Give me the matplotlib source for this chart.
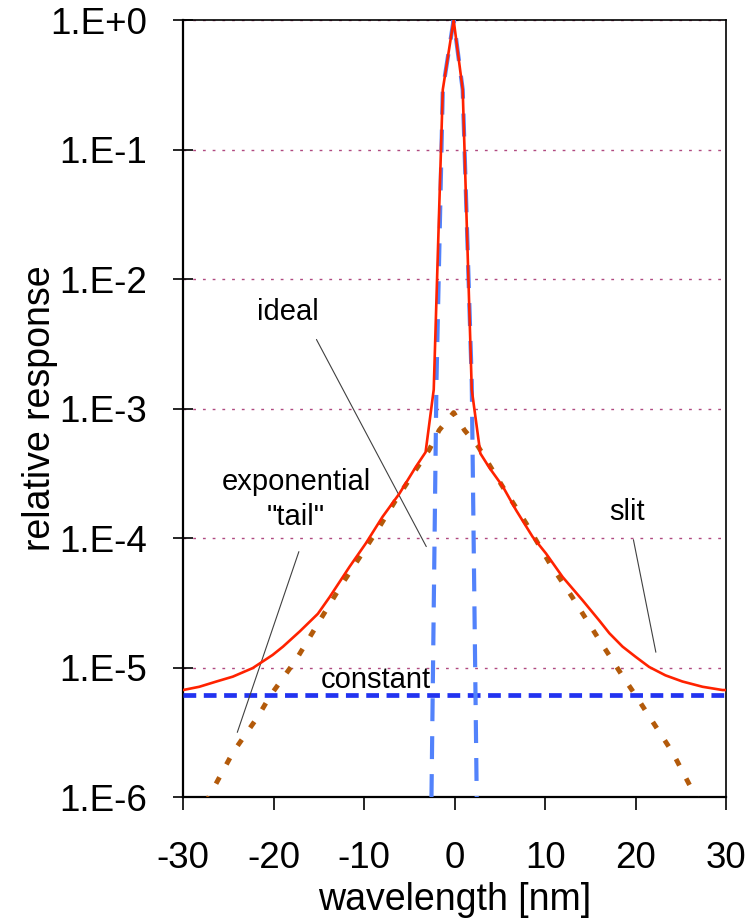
import matplotlib
matplotlib.use("Agg")
import matplotlib.pyplot as plt

plt.rcParams["font.family"] = ["Liberation Sans", "DejaVu Sans"]
plt.rcParams["axes.unicode_minus"] = False

# ideal instrument function
ideal_x = [-2.55, -2.0, -1.3, -0.1, 0.9, 1.9, 2.45]
ideal_y = [1e-6, 1.6e-3, 0.29, 1.0, 0.29, 1.6e-3, 1e-6]

# slit function (measured)
slit_x = [-30, -28.2, -26.3, -24.5, -22.3, -20.1, -18.95, -17.1, -15.1, -13.8, -11.6,
          -9.8, -7.95, -6.1, -4.27, -3.2, -2.3, -1.3, -0.1,
          0.9, 1.9, 2.85, 3.87, 5.33, 6.8, 8.63, 10.1, 11.94, 14.15, 16.0, 17.1, 18.56,
          20.0, 21.5, 23.3, 25.17, 27.4, 29.6, 30]
slit_y = [6.7e-6, 7.1e-6, 7.8e-6, 8.5e-6, 9.9e-6, 1.25e-5, 1.45e-5, 1.9e-5, 2.6e-5,
          3.5e-5, 6.0e-5, 9.1e-5, 1.46e-4, 2.2e-4, 3.55e-4, 4.6e-4, 1.4e-3, 0.29, 1.0,
          0.29, 1.4e-3, 4.5e-4, 3.47e-4, 2.5e-4, 1.64e-4, 1.02e-4, 7.6e-5, 5.0e-5,
          3.3e-5, 2.3e-5, 1.84e-5, 1.45e-5, 1.21e-5, 1.01e-5, 8.7e-6, 7.8e-6, 7.1e-6,
          6.7e-6, 6.7e-6]

# exponential "tail"
tail_x = [-27.5, -24.5, -21.7, -20.4, -17.5, -14.9, -12.35, -10.9, -8.3, -6.5, -4.3,
          -2.8, -1.7, -0.1, 1.1, 2.6, 5.3, 7.9, 10.5, 13.0, 16.0, 18.6, 20.0, 24.1, 27.0]
tail_y = [9.0e-7, 2.2e-6, 4.2e-6, 6.0e-6, 1.15e-5, 2.3e-5, 4.5e-5, 6.4e-5, 1.22e-4,
          1.96e-4, 3.35e-4, 4.8e-4, 6.8e-4, 9.3e-4, 6.8e-4, 5.1e-4, 2.5e-4, 1.3e-4,
          6.4e-5, 3.5e-5, 1.63e-5, 8.5e-6, 6.1e-6, 2.2e-6, 9.0e-7]

# constant stray light level
const_level = 6.1e-6

x_ticks = [-30, -20, -10, 0, 10, 20, 30]
x_tick_labels = ["-30", "-20", "-10", "0", "10", "20", "30"]
y_ticks = [1e0, 1e-1, 1e-2, 1e-3, 1e-4, 1e-5, 1e-6]
y_tick_labels = ["1.E+0", "1.E-1", "1.E-2", "1.E-3", "1.E-4", "1.E-5", "1.E-6"]

fig = plt.figure(figsize=(7.54, 9.23), dpi=100)
ax = fig.add_axes([0.2427, 0.1365, 0.7203, 0.8418])

ax.set_yscale("log")
ax.set_xlim(-30, 30)
ax.set_ylim(1e-6, 1)

ax.axhline(const_level, color="#2233f0", lw=3.4, linestyle=(0, (2.7, 1.6)), zorder=3)
ax.plot(tail_x, tail_y, color="#b35a0a", lw=3.5, linestyle=(0, (1.5, 3.0)), zorder=3)
ax.plot(ideal_x, ideal_y, color="#5282fb", lw=3.0, linestyle=(0, (5.5, 3.6)), zorder=4)
ax.plot(slit_x, slit_y, color="#ff2200", lw=1.9, zorder=5)

ax.set_yticks(y_ticks)
ax.set_yticklabels(y_tick_labels)
ax.minorticks_off()
ax.set_xticks(x_ticks)
ax.set_xticklabels(x_tick_labels)
ax.tick_params(axis="y", direction="inout", length=14, width=1.2, labelsize=26.5, pad=19)
ax.tick_params(axis="x", direction="out", length=9.5, width=1.2, labelsize=26.5, pad=22)

ax.grid(axis="y", color="#b04a80", lw=1.0, linestyle=(0, (2, 5)))
ax.set_axisbelow(True)

for side in ["left", "bottom"]:
    ax.spines[side].set_linewidth(1.6)
for side in ["top", "right"]:
    ax.spines[side].set_linewidth(1.2)

ax.set_xlabel("wavelength [nm]", fontsize=27)
ax.set_ylabel("relative response", fontsize=27)
ax.xaxis.label.set_va("center")
ax.yaxis.label.set_va("center")
ax.xaxis.set_label_coords(0.5, -0.1326)
ax.yaxis.set_label_coords(-0.263, 0.5)

leader = dict(arrowstyle="-", color="#404040", lw=0.8)
ax.annotate("", xy=(-2.98, 10 ** -4.085), xytext=(-15.4, 10 ** -2.448), arrowprops=leader)
ax.annotate("", xy=(-24.1, 10 ** -5.521), xytext=(-17.1, 10 ** -4.085), arrowprops=leader)
ax.annotate("", xy=(22.3, 10 ** -4.903), xytext=(19.7, 10 ** -3.992), arrowprops=leader)

ax.text(-18.4, 10 ** -2.255, "ideal", fontsize=21, ha="center", va="center")
ax.text(-17.5, 10 ** -3.703, "exponential\n\"tail\"", fontsize=21, ha="center", va="center",
        linespacing=1.3)
ax.text(19.07, 10 ** -3.799, "slit", fontsize=21, ha="center", va="center")
ax.text(-8.65, 10 ** -5.097, "constant", fontsize=21, ha="center", va="center")

fig.savefig("out.png", dpi=100)
